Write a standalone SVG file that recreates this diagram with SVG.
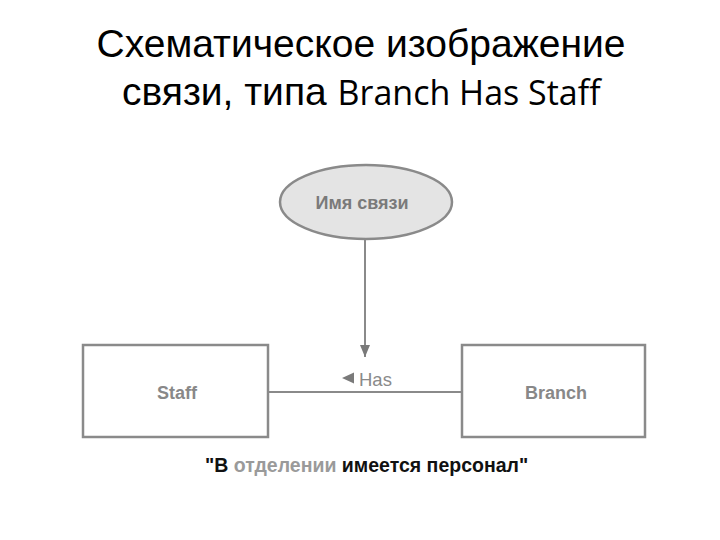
<svg xmlns="http://www.w3.org/2000/svg" width="720" height="540" viewBox="0 0 720 540">
<style>
.title{font-family:"Liberation Sans",Arial,sans-serif;font-size:39px;fill:#000}
.cal{font-family:"Open Sans","Noto Sans",sans-serif;font-size:34px}
.box{fill:#fff;stroke:#8a8a8a;stroke-width:2.5}
.lbl{font-family:"Liberation Sans",Arial,sans-serif;font-size:18px;font-weight:bold;fill:#888;text-anchor:middle}
.conn{stroke:#8a8a8a;stroke-width:2;fill:none}
.cap{font-family:"Liberation Sans",Arial,sans-serif;font-size:19.5px;font-weight:bold;fill:#111}
</style>
<defs>
<marker id="arr" markerWidth="12" markerHeight="10" refX="12" refY="5" orient="auto" markerUnits="userSpaceOnUse" viewBox="0 0 12 10">
<path d="M0,0 L12,5 L0,10 Z" fill="#7a7a7a"/>
</marker>
</defs>
<rect width="720" height="540" fill="#fff"/>
<g id="title">
<text class="title" x="361" y="57" text-anchor="middle">Схематическое изображение</text>
<text class="title" x="122" y="105">связи, типа <tspan class="cal">Branch Has Staff</tspan></text>
</g>
<g id="connectors">
<line class="conn" x1="365" y1="239" x2="365" y2="357" marker-end="url(#arr)"/>
<line class="conn" x1="268" y1="392" x2="462" y2="392"/>
<path d="M342,378 L354,372.5 L354,383.5 Z" fill="#7a7a7a"/>
<text x="359" y="386" font-family="Liberation Sans,Arial,sans-serif" font-size="18.5" fill="#8a8a8a">Has</text>
</g>
<g id="relname">
<ellipse cx="366" cy="202" rx="86" ry="37" fill="#e4e4e4" stroke="#8a8a8a" stroke-width="2.5"/>
<text class="lbl" x="362" y="209" style="fill:#7a7a7a">Имя связи</text>
</g>
<g id="staff">
<rect class="box" x="83" y="345" width="185" height="92"/>
<text class="lbl" x="177" y="399">Staff</text>
</g>
<g id="branch">
<rect class="box" x="462" y="345" width="183" height="92"/>
<text class="lbl" x="556" y="399">Branch</text>
</g>
<g id="caption">
<text class="cap" x="205" y="472">"В <tspan fill="#9a9a9a">отделении</tspan> имеется персонал"</text>
</g>
</svg>
